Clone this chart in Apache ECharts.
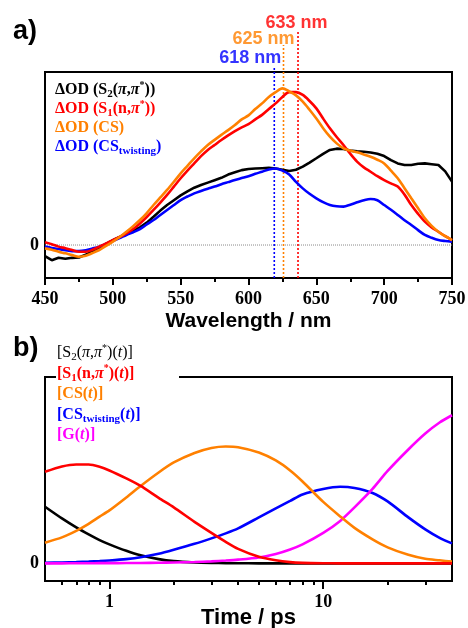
<!DOCTYPE html>
<html><head><meta charset="utf-8">
<script src="https://cdn.jsdelivr.net/npm/echarts@6/dist/echarts.min.js"></script>
<style>html,body{margin:0;padding:0;background:#fff}#c{width:468px;height:628px}</style>
</head><body><div id="c"></div>
<script>
// ---------- Panel a) data ----------
const wavelengths = [450,455,460,465,470,475,480,485,490,495,500,505,510,515,520,525,530,535,540,545,550,555,560,565,570,575,580,585,590,595,600,605,610,615,620,625,630,635,640,645,650,655,660,665,670,675,680,685,690,695,700,705,710,715,720,725,730,735,740,745,750];
const dOD_S2 = [-0.070,-0.095,-0.080,-0.086,-0.080,-0.078,-0.060,-0.040,-0.020,0.005,0.030,0.050,0.073,0.090,0.110,0.140,0.177,0.215,0.250,0.280,0.310,0.335,0.358,0.375,0.390,0.405,0.420,0.440,0.454,0.468,0.475,0.478,0.480,0.482,0.478,0.470,0.462,0.470,0.490,0.515,0.542,0.570,0.594,0.602,0.600,0.590,0.585,0.583,0.578,0.570,0.556,0.530,0.510,0.500,0.500,0.508,0.510,0.505,0.500,0.460,0.396];
const dOD_S1 = [0.017,0.005,-0.010,-0.020,-0.031,-0.042,-0.042,-0.030,-0.010,0.010,0.031,0.050,0.073,0.100,0.135,0.175,0.219,0.265,0.313,0.365,0.417,0.465,0.510,0.555,0.594,0.625,0.656,0.685,0.712,0.735,0.755,0.785,0.813,0.850,0.885,0.925,0.955,0.955,0.938,0.900,0.854,0.790,0.729,0.675,0.625,0.570,0.521,0.485,0.458,0.430,0.406,0.385,0.365,0.315,0.250,0.195,0.146,0.110,0.083,0.055,0.031];
const dOD_CS = [-0.021,-0.030,-0.042,-0.052,-0.063,-0.073,-0.067,-0.050,-0.031,-0.005,0.021,0.050,0.083,0.118,0.156,0.200,0.250,0.297,0.344,0.395,0.448,0.495,0.542,0.585,0.625,0.657,0.688,0.718,0.750,0.785,0.810,0.850,0.885,0.925,0.955,0.979,0.960,0.935,0.896,0.845,0.790,0.730,0.677,0.635,0.604,0.590,0.579,0.566,0.552,0.533,0.510,0.465,0.417,0.355,0.292,0.230,0.167,0.120,0.083,0.055,0.031];
const dOD_CStw = [-0.010,-0.018,-0.025,-0.032,-0.038,-0.038,-0.033,-0.022,-0.010,0.008,0.025,0.043,0.063,0.080,0.100,0.128,0.156,0.188,0.219,0.250,0.281,0.303,0.323,0.338,0.352,0.365,0.380,0.393,0.406,0.418,0.430,0.445,0.458,0.472,0.478,0.465,0.440,0.395,0.354,0.320,0.292,0.268,0.250,0.242,0.240,0.252,0.267,0.280,0.288,0.280,0.250,0.220,0.188,0.155,0.125,0.093,0.063,0.045,0.031,0.025,0.021];
const peakLineWl = [619, 625.8, 636.5];
const peakLineTop = [1.106, 1.25, 1.339];
const peakLabels = ['618 nm', '625 nm', '633 nm'];
const wlTicks = [450, 500, 550, 600, 650, 700, 750];

// ---------- Panel b) data ----------
const times = [0.5,0.6,0.7,0.8,0.9,1,1.2,1.4,1.7,2,2.5,3,3.5,4,5,6,7,8,10,12,14,17,20,25,30,35,40];
const pop_S2 = [0.567,0.450,0.360,0.290,0.233,0.190,0.125,0.080,0.042,0.022,0.009,0.004,0.002,0.001,0,0,0,0,0,0,0,0,0,0,0,0,0];
const pop_S1 = [0.917,0.970,0.990,0.990,0.967,0.930,0.850,0.775,0.655,0.560,0.415,0.305,0.215,0.145,0.065,0.030,0.012,0.005,0.001,0,0,0,0,0,0,0,0];
const pop_CS = [0.207,0.260,0.325,0.395,0.468,0.530,0.660,0.775,0.910,1.010,1.105,1.155,1.170,1.163,1.110,1.030,0.930,0.820,0.615,0.470,0.355,0.240,0.160,0.085,0.045,0.030,0.017];
const pop_CStw = [0.005,0.008,0.012,0.017,0.022,0.028,0.042,0.060,0.095,0.135,0.195,0.250,0.300,0.350,0.460,0.550,0.625,0.690,0.745,0.767,0.755,0.705,0.620,0.460,0.340,0.255,0.200];
const pop_G = [0,0,0.001,0.001,0.002,0.002,0.003,0.004,0.006,0.008,0.013,0.020,0.028,0.037,0.059,0.094,0.139,0.190,0.305,0.425,0.560,0.745,0.925,1.140,1.300,1.410,1.483];
const timeMajorTicks = [1, 10];
const timeMinorTicks = [0.6,0.7,0.8,0.9,2,3,4,5,6,7,8,9,20,30];

const C = {black:'#000000', red:'#ff0000', orange:'#ff8000', blue:'#0000ff', magenta:'#ff00ff'};
const SERIF = '"Liberation Serif","Times New Roman",serif';
const SANS = '"Liberation Sans",Arial,sans-serif';

const pair = (xs, ys) => xs.map((x, i) => [x, ys[i]]);

const chart = echarts.init(document.getElementById('c'), null, {renderer: 'canvas'});

const topMin = -0.206, topMax = 1.081;
const botMin = -0.177, botMax = 1.866;

function curve(name, xi, yi, xs, ys, color, smooth) {
  return {name, type:'line', xAxisIndex:xi, yAxisIndex:yi, data: pair(xs, ys), showSymbol:false, symbol:'none',
    smooth: smooth, lineStyle:{color, width:2.6}, itemStyle:{color}, silent:true, animation:false};
}

const series = [];
// zero dotted line
series.push({type:'line', xAxisIndex:0, yAxisIndex:0, data:[[450,0],[750,0]], symbol:'none',
  lineStyle:{color:'#8a8a8a', width:1, type:'dotted'}, silent:true, animation:false, z:1});
// peak marker lines
const peakColors = [C.blue, C.orange, C.red];
const peakOffsets = [[-24,-1], [-20,3], [-1.5,1]];
peakLineWl.forEach((wl, i) => {
  series.push({type:'line', xAxisIndex:0, yAxisIndex:0, clip:false, symbol:'none',
    data:[[wl, topMin], [wl, peakLineTop[i]]],
    lineStyle:{color:peakColors[i], width:1.6, type:[2,2]}, silent:true, animation:false, z:3});
  series.push({type:'scatter', xAxisIndex:0, yAxisIndex:0, clip:false, symbolSize:0,
    data:[[wl, peakLineTop[i]]],
    label:{show:true, position:'top', distance:0, offset:peakOffsets[i], formatter:peakLabels[i],
      color:peakColors[i], fontFamily:SANS, fontWeight:'bold', fontSize:18},
    silent:true, animation:false, z:5});
});
series.push(curve('S2', 0, 0, wavelengths, dOD_S2, C.black, false));
series.push(curve('CStw', 0, 0, wavelengths, dOD_CStw, C.blue, 0.3));
series.push(curve('S1', 0, 0, wavelengths, dOD_S1, C.red, 0.3));
series.push(curve('CS', 0, 0, wavelengths, dOD_CS, C.orange, 0.3));

series.push(curve('pS2', 1, 1, times, pop_S2, C.black, 0.25));
series.push(curve('pCStw', 1, 1, times, pop_CStw, C.blue, 0.25));
series.push(curve('pG', 1, 1, times, pop_G, C.magenta, 0.25));
series.push(curve('pCS', 1, 1, times, pop_CS, C.orange, 0.25));
series.push(curve('pS1', 1, 1, times, pop_S1, C.red, 0.25));

// rich text helpers
function richFor(color, weight) {
  const base = {fontFamily:SERIF, fontWeight:weight, fontSize:16, fill:color};
  return {
    b: Object.assign({}, base, {lineHeight:20, verticalAlign:'middle'}),
    it: Object.assign({}, base, {fontStyle:'italic', lineHeight:20, verticalAlign:'middle'}),
    sub: Object.assign({}, base, {fontSize:11, lineHeight:12, verticalAlign:'bottom'}),
    sup: Object.assign({}, base, {fontSize:10, lineHeight:12, verticalAlign:'top'})
  };
}
const s = (st, t) => '{' + st + '|' + t + '}';
function legendText(x, y, color, weight, text) {
  return {type:'text', x, y, z:100, silent:true,
    style:{text, rich:richFor(color, weight), align:'left', verticalAlign:'middle'}};
}

const topLegend = [
  [C.black, s('b','ΔOD (S') + s('sub','2') + s('b','(') + s('it','π') + s('b',',') + s('it','π') + s('sup','*') + s('b','))')],
  [C.red, s('b','ΔOD (S') + s('sub','1') + s('b','(n,') + s('it','π') + s('sup','*') + s('b','))')],
  [C.orange, s('b','ΔOD (CS)')],
  [C.blue, s('b','ΔOD (CS') + s('sub','twisting') + s('b',')')]
];
const botLegend = [
  [C.black, 'normal', s('b','[S') + s('sub','2') + s('b','(') + s('it','π') + s('b',',') + s('it','π') + s('sup','*') + s('b',')(') + s('it','t') + s('b',')]')],
  [C.red, 'bold', s('b','[S') + s('sub','1') + s('b','(n,') + s('it','π') + s('sup','*') + s('b',')(') + s('it','t') + s('b',')]')],
  [C.orange, 'bold', s('b','[CS(') + s('it','t') + s('b',')]')],
  [C.blue, 'bold', s('b','[CS') + s('sub','twisting') + s('b','(') + s('it','t') + s('b',')]')],
  [C.magenta, 'bold', s('b','[G(') + s('it','t') + s('b',')]')]
];

const graphics = [
  {type:'text', x:13, y:32, z:100, silent:true, style:{text:'a)', fontFamily:SANS, fontWeight:'bold', fontSize:27, fill:'#000', verticalAlign:'middle'}},
  {type:'text', x:13, y:349, z:100, silent:true, style:{text:'b)', fontFamily:SANS, fontWeight:'bold', fontSize:27, fill:'#000', verticalAlign:'middle'}},
  {type:'rect', z:90, silent:true, shape:{x:56, y:372, width:123, height:9}, style:{fill:'#fff'}}
];
topLegend.forEach((l, i) => graphics.push(legendText(55, 90 + i*19, l[0], 'bold', l[1])));
botLegend.forEach((l, i) => graphics.push(legendText(57, 353 + i*20.5, l[0], l[1], l[2])));

const axisLineStyle = {color:'#000', width:2};
const tickLabel = {fontFamily:SERIF, fontWeight:'bold', fontSize:18, color:'#000'};

chart.setOption({
  animation:false,
  backgroundColor:'#fff',
  grid:[
    {left:45, top:72, width:407, height:206, show:true, borderColor:'#000', borderWidth:2, backgroundColor:'transparent', containLabel:false, outerBoundsMode:'none'},
    {left:45, top:377, width:407, height:204, show:true, borderColor:'#000', borderWidth:2, backgroundColor:'transparent', containLabel:false, outerBoundsMode:'none'}
  ],
  xAxis:[
    {type:'value', gridIndex:0, min:450, max:750, interval:50,
      axisLine:{show:true, onZero:false, lineStyle:axisLineStyle},
      axisTick:{show:true, inside:false, length:7, lineStyle:axisLineStyle},
      minorTick:{show:true, splitNumber:2, length:4, lineStyle:axisLineStyle},
      splitLine:{show:false}, minorSplitLine:{show:false},
      axisLabel:Object.assign({margin:12, hideOverlap:false, showMinLabel:true, showMaxLabel:true, customValues:wlTicks}, tickLabel),
      name:'Wavelength / nm', nameLocation:'middle', nameGap:33, nameMoveOverlap:false,
      nameTextStyle:{fontFamily:SANS, fontWeight:'bold', fontSize:21, color:'#000'}},
    {type:'log', logBase:10, gridIndex:1, min:0.5, max:40,
      axisLine:{show:true, onZero:false, lineStyle:axisLineStyle},
      axisTick:{show:true, inside:false, length:8, lineStyle:axisLineStyle, customValues:timeMajorTicks},
      minorTick:{show:false}, splitLine:{show:false}, minorSplitLine:{show:false},
      axisLabel:Object.assign({margin:12, customValues:timeMajorTicks, hideOverlap:false}, tickLabel),
      name:'Time / ps', nameLocation:'middle', nameGap:26, nameMoveOverlap:false,
      nameTextStyle:{fontFamily:SANS, fontWeight:'bold', fontSize:22, color:'#000'}},
    {type:'log', logBase:10, gridIndex:1, min:0.5, max:40, position:'bottom',
      axisLine:{show:false, onZero:false},
      axisTick:{show:true, inside:false, length:4, lineStyle:axisLineStyle, customValues:timeMinorTicks},
      minorTick:{show:false}, splitLine:{show:false},
      axisLabel:{show:false}}
  ],
  yAxis:[
    {type:'value', gridIndex:0, min:topMin, max:topMax,
      axisLine:{show:false}, axisTick:{show:false}, splitLine:{show:false},
      axisLabel:Object.assign({margin:6, customValues:[0], hideOverlap:false}, tickLabel)},
    {type:'value', gridIndex:1, min:botMin, max:botMax,
      axisLine:{show:false}, axisTick:{show:false}, splitLine:{show:false},
      axisLabel:Object.assign({margin:6, customValues:[0], hideOverlap:false}, tickLabel)}
  ],
  series,
  graphic:graphics
});
</script></body></html>
